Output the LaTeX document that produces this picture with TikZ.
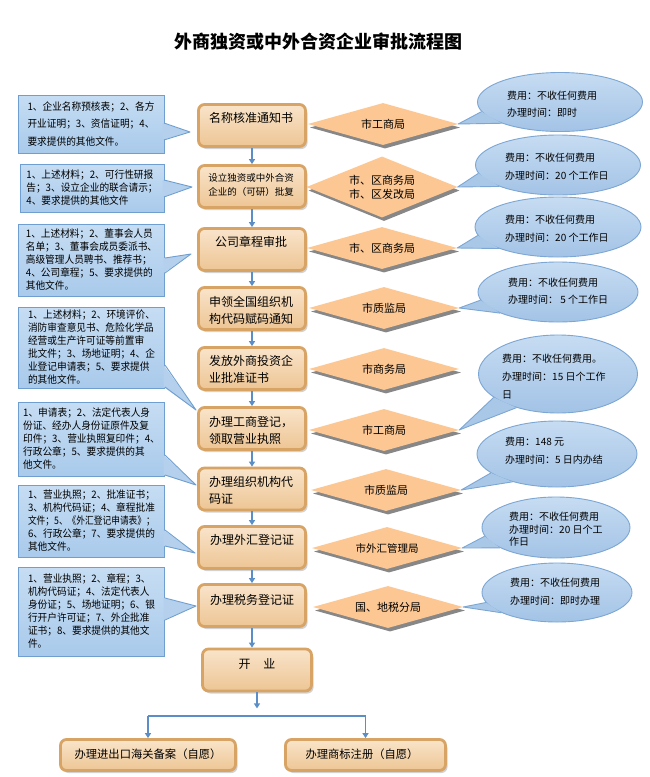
\documentclass[tikz,border=0pt]{standalone}
\usepackage{fontspec}
\setmainfont{Noto Sans CJK SC}
\newfontfamily\notefont{Noto Sans CJK SC}[FakeStretch=0.94]
\usetikzlibrary{shapes.geometric,shadows,arrows.meta}
\definecolor{boxrim}{HTML}{D8A465}
\definecolor{boxtop}{HTML}{F9E4CA}
\definecolor{boxbot}{HTML}{EDC594}
\definecolor{notedraw}{HTML}{6F9FD0}
\definecolor{notetop}{HTML}{C6DDF3}
\definecolor{notebot}{HTML}{A9CAEB}
\definecolor{notemid}{HTML}{B4D0ED}
\definecolor{elldraw}{HTML}{7CA6D3}
\definecolor{elltop}{HTML}{C6DCF2}
\definecolor{ellbot}{HTML}{A3C3E6}
\definecolor{ellwedge}{HTML}{A9C8E8}
\definecolor{diafill}{HTML}{FCC793}
\definecolor{arrcol}{HTML}{5B8EC6}
\newcommand\nwedge[4]{%
  \fill[notemid] ({#1-1.3},#2) -- (#4) -- ({#1-1.3},#3) -- cycle;
  \draw[notedraw, line width=0.9pt, line join=round] (#1,#2) -- (#4) -- (#1,#3);}
\newcommand\ewedge[4]{%
  \fill[ellwedge] (#1.#2) -- (#4) -- (#1.#3) -- cycle;
  \draw[elldraw, line width=0.9pt, line join=round] (#1.#2) -- (#4) -- (#1.#3);}
\begin{document}
\begin{tikzpicture}[x=1pt,y=-1pt,
  box/.style={rectangle, rounded corners=6pt, draw=boxrim, line width=2.8pt,
    top color=boxtop, bottom color=boxbot, minimum width=107pt, minimum height=42pt,
    inner sep=0pt, drop shadow={shadow xshift=2pt, shadow yshift=-2.5pt, opacity=0.35}},
  dia/.style={diamond, aspect=3.5, minimum width=150pt, minimum height=42pt, inner sep=0pt,
    fill=diafill, drop shadow={shadow xshift=2pt, shadow yshift=-3.5pt, fill=black!55, opacity=0.85},
    font=\fontsize{11}{14}\selectfont, align=center},
  ell/.style={ellipse, draw=elldraw, line width=0.9pt, top color=elltop, bottom color=ellbot, inner sep=0pt},
  note/.style={rectangle, draw=notedraw, line width=0.9pt, top color=notetop, bottom color=notebot,
    inner sep=0pt, minimum width=146pt, align=left, font=\notefont\fontsize{10.3}{13}\selectfont},
  arr/.style={draw=arrcol, line width=1.2pt, -{Triangle[length=5pt,width=6pt]}},
  bt/.style={inner sep=0pt, align=left, font=\fontsize{12}{17}\selectfont},
  et/.style={inner sep=0pt, align=left, anchor=west, font=\fontsize{10}{17.5}\selectfont}]
\useasboundingbox (0,0) rectangle (650,777);
\fill[white] (0,0) rectangle (650,777);

\node[font=\fontsize{18}{20}\selectfont\bfseries, inner sep=0pt] (title) at (318,42) {外商独资或中外合资企业审批流程图};

% diamonds
\node[dia] (d1) at (383,124) {市工商局};
\node[dia, minimum height=61pt] (d2) at (382,187) {市、区商务局\\市、区发改局};
\node[dia] (d3) at (382,248) {市、区商务局};
\node[dia] (d4) at (384,308) {市质监局};
\node[dia] (d5) at (384,369) {市商务局};
\node[dia] (d6) at (384,430) {市工商局};
\node[dia] (d7) at (386,490) {市质监局};
\node[dia, font=\fontsize{10.5}{14}\selectfont] (d8) at (387,548) {市外汇管理局};
\node[dia] (d9) at (388,607) {国、地税分局};

% ellipses
\node[ell, minimum width=165pt, minimum height=59pt] (e1) at (560,102) {};
\node[ell, minimum width=165pt, minimum height=60pt] (e2) at (558,165) {};
\node[ell, minimum width=166pt, minimum height=60pt] (e3) at (558,227) {};
\node[ell, minimum width=160pt, minimum height=60pt] (e4) at (558,292) {};
\node[ell, minimum width=159pt, minimum height=78pt] (e5) at (558,374) {};
\node[ell, minimum width=160pt, minimum height=66pt] (e6) at (557,454) {};
\node[ell, minimum width=148pt, minimum height=61pt] (e7) at (556,527.5) {};
\node[ell, minimum width=150pt, minimum height=59pt] (e8) at (557,592.5) {};
\ewedge{e1}{187}{200}{d1.east}
\ewedge{e2}{186}{200}{d2.east}
\ewedge{e3}{186}{200}{d3.east}
\ewedge{e4}{186}{200}{d4.east}
\ewedge{e5}{200}{219}{d6.east}
\ewedge{e6}{196}{212}{d7.east}
\ewedge{e7}{187}{200}{d8.east}
\ewedge{e8}{188}{200}{d9.east}

\node[et] (et1) at (507,104) {费用：不收任何费用\\办理时间：即时};
\node[et] (et2) at (505,166.5) {费用：不收任何费用\\办理时间：20 个工作日};
\node[et] (et3) at (505,228.5) {费用：不收任何费用\\办理时间：20 个工作日};
\node[et] (et4) at (508,291) {费用：不收任何费用\\办理时间： 5 个工作日};
\node[et, font=\fontsize{10}{18}\selectfont] (et5) at (502,377) {费用：不收任何费用。\\办理时间：15 日个工作\\日};
\node[et] (et6) at (505,450.5) {费用：148 元\\办理时间：5 日内办结};
\node[et, font=\fontsize{10}{12.5}\selectfont] (et7) at (509,529.5) {费用：不收任何费用\\办理时间：20 日个工\\作日};
\node[et] (et8) at (510,591.5) {费用：不收任何费用\\办理时间：即时办理};

% main boxes
\node[box] (b1) at (252,125.5) {};
\node[box] (b2) at (252,186.5) {};
\node[box] (b3) at (252,249.5) {};
\node[box] (b4) at (252,308.5) {};
\node[box] (b5) at (252,368.5) {};
\node[box] (b6) at (252,428.5) {};
\node[box] (b7) at (252,489) {};
\node[box] (b8) at (252,547.5) {};
\node[box] (b9) at (252,605.5) {};
\node[box, minimum width=109pt] (kaiye) at (257,670) {};
\node[box, minimum width=175pt, minimum height=31pt] (c1) at (148,755) {};
\node[box, minimum width=160pt, minimum height=31pt] (c2) at (365.5,755) {};

\node[bt] (t1) at (251,118) {名称核准通知书};
\node[bt, font=\fontsize{9.5}{14}\selectfont] (t2) at (251,185) {设立独资或中外合资\\企业的（可研）批复};
\node[bt] (t3) at (251,242) {公司章程审批};
\node[bt] (t4) at (251,310) {申领全国组织机\\构代码赋码通知};
\node[bt] (t5) at (251,369) {发放外商投资企\\业批准证书};
\node[bt] (t6) at (251,430) {办理工商登记，\\领取营业执照};
\node[bt] (t7) at (251,490) {办理组织机构代\\码证};
\node[bt] (t8) at (252,540) {办理外汇登记证};
\node[bt] (t9) at (252,600) {办理税务登记证};
\node[bt] (t10) at (257,664) {开\hspace{13pt}业};
\node[bt, font=\fontsize{11.3}{14}\selectfont] (t11) at (148,754) {办理进出口海关备案（自愿）};
\node[bt, font=\fontsize{11.3}{14}\selectfont] (t12) at (362,754) {办理商标注册（自愿）};

% arrows
\draw[arr] (b1.south) -- (b2.north);
\draw[arr] (b2.south) -- (b3.north);
\draw[arr] (b3.south) -- (b4.north);
\draw[arr] (b4.south) -- (b5.north);
\draw[arr] (b5.south) -- (b6.north);
\draw[arr] (b6.south) -- (b7.north);
\draw[arr] (b7.south) -- (b8.north);
\draw[arr] (b8.south) -- (b9.north);
\draw[arr] (b9.south) -- (kaiye.north -| b9.south);
\coordinate (sp) at (257,716);
\draw[arr] (kaiye.south) -- ++(0,16);
\draw[arrcol, line width=1.2pt] (c1.north |- sp) -- (c2.north |- sp);
\draw[arr] (c1.north |- sp) -- (c1.north);
\draw[arr] (c2.north |- sp) -- (c2.north);

% notes
\node[note, minimum height=58pt, font=\notefont\fontsize{10.3}{17.5}\selectfont] (n1) at (91,124)
  {1、企业名称预核表；2、各方\\开业证明；3、资信证明；4、\\要求提供的其他文件。};
\node[note, minimum width=144pt, minimum height=48pt] (n2) at (92,188)
  {1、上述材料；2、可行性研报\\告；3、设立企业的联合请示；\\4、要求提供的其他文件};
\node[note, minimum height=72pt] (n3) at (91.5,260)
  {1、上述材料；2、董事会人员\\名单；3、董事会成员委派书、\\高级管理人员聘书、推荐书；\\4、公司章程；5、要求提供的\\其他文件。};
\node[note, minimum height=81pt] (n4) at (91.5,347.5)
  {1、上述材料；2、环境评价、\\消防审查意见书、危险化学品\\经营或生产许可证等前置审\\批文件；3、场地证明；4、企\\业登记申请表；5、要求提供\\的其他文件。};
\node[note, minimum height=74pt] (n5) at (91.5,439)
  {1、申请表；2、法定代表人身\\份证、经办人身份证原件及复\\印件；3、营业执照复印件；4、\\行政公章；5、要求提供的其\\他文件。};
\node[note, minimum height=72pt] (n6) at (91.5,521)
  {1、营业执照；2、批准证书；\\3、机构代码证；4、章程批准\\\scalebox{0.9}[1]{文件；5、《外汇登记申请表》；}\\6、行政公章；7、要求提供的\\其他文件。};
\node[note, minimum height=89pt] (n7) at (91.5,611.5)
  {1、营业执照；2、章程；3、\\机构代码证；4、法定代表人\\身份证；5、场地证明；6、银\\行开户许可证；7、外企批准\\证书；8、要求提供的其他文\\件。};

\coordinate (p1) at (190,132);
\coordinate (p2) at (192,187);
\coordinate (p3) at (191,254);
\coordinate (p4) at (196,410);
\coordinate (p5) at (196,485);
\coordinate (p6) at (195,553);
\coordinate (p7) at (196,606);
\nwedge{164}{123}{140}{p1}
\nwedge{164}{180}{197}{p2}
\nwedge{165}{258}{273}{p3}
\nwedge{165}{365}{387}{p4}
\nwedge{165}{455}{475}{p5}
\nwedge{165}{530}{546}{p6}
\nwedge{165}{598}{620}{p7}
\end{tikzpicture}
\end{document}
